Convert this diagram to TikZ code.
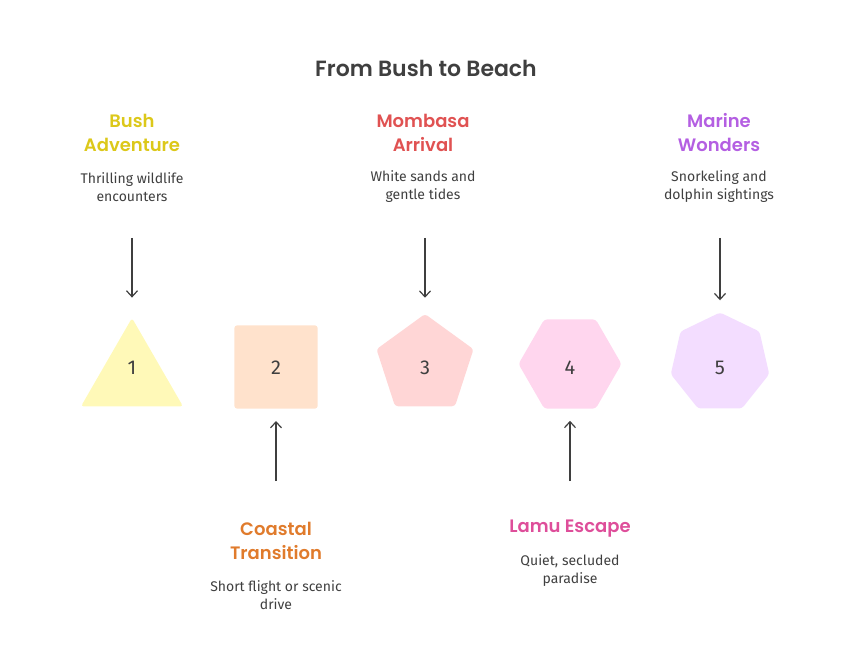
\documentclass[tikz,border=0pt]{standalone}
\usepackage{fontspec}
\setmainfont{Fira Sans}
\newfontfamily\headfont{Poppins}[BoldFont={* SemiBold}]
\usetikzlibrary{shapes.geometric}
\definecolor{inkgray}{HTML}{3F3F3F}
\definecolor{bushc}{HTML}{DCC81A}
\definecolor{coastc}{HTML}{E07B2C}
\definecolor{mombc}{HTML}{E05252}
\definecolor{lamuc}{HTML}{DE4E9A}
\definecolor{marinc}{HTML}{B45FE2}
\definecolor{bushf}{HTML}{FFF9B8}
\definecolor{coastf}{HTML}{FFE2CC}
\definecolor{mombf}{HTML}{FFD6D6}
\definecolor{lamuf}{HTML}{FFD6EE}
\definecolor{marinf}{HTML}{F3DDFF}
\tikzset{%
          every stage/.style={
            regular polygon,
            draw=none,
            rounded corners=3pt,
            inner sep=0pt
          },
          stage num/.style={
            text=inkgray,
            font=\fontsize{20}{24}\selectfont
          },
          stage head/.style={
            align=center,
            font=\headfont\bfseries\fontsize{18}{24}\selectfont
          },
          stage text/.style={
            align=center,
            text=inkgray,
            font=\fontsize{14}{18}\selectfont
          },
          stage arrow/.style={
            draw=inkgray,
            line width=1.2pt,
            -{Straight Barb[length=6pt,width=11pt]}
          },
        }
\usetikzlibrary{arrows.meta}
\begin{document}
\begin{tikzpicture}[x=1pt, y=-1pt]
        \useasboundingbox (0,0) rectangle (852,660);
        \node [stage head, text=inkgray, font=\headfont\bfseries\fontsize{22}{26}\selectfont] (title) at (426,68) {From Bush to Beach};

        \node [every stage, regular polygon sides=3, minimum size=118, fill=bushf] (stage-1) at (132,377) {};
        \node [every stage, regular polygon sides=4, minimum size=118, fill=coastf] (stage-2) at (276,367) {};
        \node [every stage, regular polygon sides=5, minimum size=102, fill=mombf] (stage-3) at (425,365) {};
        \node [every stage, regular polygon sides=6, minimum size=103, fill=lamuf] (stage-4) at (570,364) {};
        \node [every stage, regular polygon sides=7, minimum size=101, fill=marinf] (stage-5) at (720,363) {};

        \node [stage num] (num-1) at (132,368) {1};
        \node [stage num] (num-2) at (276,368) {2};
        \node [stage num] (num-3) at (425,368) {3};
        \node [stage num] (num-4) at (570,368) {4};
        \node [stage num] (num-5) at (720,368) {5};

        \node [stage head, text=bushc] (head-1) at (132,133) {Bush\\Adventure};
        \node [stage text] (text-1) at (132,187) {Thrilling wildlife\\encounters};
        \node [stage head, text=mombc] (head-3) at (423,133) {Mombasa\\Arrival};
        \node [stage text] (text-3) at (423,187) {White sands and\\gentle tides};
        \node [stage head, text=marinc] (head-5) at (719,133) {Marine\\Wonders};
        \node [stage text] (text-5) at (719,187) {Snorkeling and\\dolphin sightings};

        \node [stage head, text=coastc] (head-2) at (276,541) {Coastal\\Transition};
        \node [stage text] (text-2) at (276,595) {Short flight or scenic\\drive};
        \node [stage head, text=lamuc] (head-4) at (570,529) {Lamu Escape};
        \node [stage text] (text-4) at (570,571) {Quiet, secluded\\paradise};

        \coordinate (from-1) at (132,238);
        \coordinate (from-2) at (276,481);
        \coordinate (from-3) at (425,238);
        \coordinate (from-4) at (570,481);
        \coordinate (from-5) at (720,238);

        \path [stage arrow, shorten >=20pt] (from-1) -- (stage-1.north);
        \path [stage arrow, shorten >=16pt] (from-3) -- (stage-3.north);
        \path [stage arrow, shorten >=12pt] (from-5) -- (stage-5.north);
        \path [stage arrow, shorten >=12pt] (from-2) -- (stage-2.south |- 0,409);
        \path [stage arrow, shorten >=12pt] (from-4) -- (stage-4.south);

        \end{tikzpicture}
\end{document}
